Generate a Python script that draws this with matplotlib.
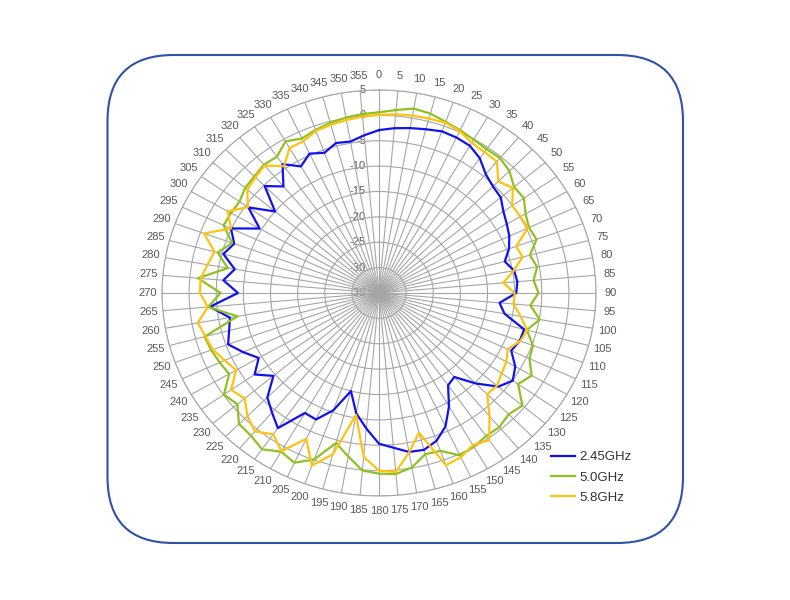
import numpy as np
import matplotlib
matplotlib.use("Agg")
import matplotlib.pyplot as plt
from matplotlib.patches import FancyBboxPatch
from matplotlib.transforms import offset_copy

plt.rcParams['font.family'] = ['Liberation Sans', 'DejaVu Sans']

# angles in degrees, 0 at top, clockwise
angles = list(range(0, 360, 5))

# gain readings (dB) per angle
gain_245 = [-2.9, -2.4, -2.0, -1.6, -1.1, -1.2, -1.5, -2.6, -4.4, -5.3, -5.7, -7.0,
            -7.8, -8.5, -9.5, -11.0, -9.7, -9.4, -9.7, -12.7, -11.5, -7.3, -7.4, -8.1,
            -6.0, -4.9, -6.3, -9.8, -13.4, -12.8, -9.2, -6.0, -4.0, -3.0, -3.2, -4.4,
            -5.3, -8.2, -10.9, -15.0, -10.4, -7.5, -7.7, -2.5, -4.3, -5.9, -9.6, -7.0,
            -9.4, -7.4, -5.4, -6.4, -7.1, -3.7, -9.0, -6.2, -8.0, -5.3, -6.6, -4.9,
            -9.6, -5.6, -10.0, -5.2, -7.6, -4.0, -6.2, -4.7, -5.6, -4.4, -4.7, -3.8]

gain_50 = [0.6, 1.2, 1.9, 1.6, 0.9, 0.4, -0.1, -0.4, -0.3, -1.0, -2.5, -2.4,
           -3.8, -4.5, -4.1, -6.2, -5.4, -6.4, -5.6, -7.0, -4.9, -6.8, -4.8, -4.4,
           -2.5, -3.7, -0.5, -1.2, -0.5, -0.6, 0.0, 0.3, -1.9, -2.1, -0.1, 0.8,
           0.6, 0.1, -2.3, -4.4, -0.1, 1.9, 1.1, 2.6, 1.7, 1.5, -0.9, -0.1,
           -3.1, -2.6, -2.1, -1.7, -8.5, -3.4, -5.8, -1.5, -6.7, -4.2, -6.2, -3.4,
           -3.5, -3.6, -2.8, -2.5, -2.0, -2.2, -0.5, -1.4, -0.8, -0.3, 0.1, 0.4]

gain_58 = [0.1, 0.35, 0.5, 0.6, 0.7, 0.2, -0.8, -1.1, -1.2, -3.9, -2.8, -5.0,
           -4.9, -4.7, -8.1, -7.6, -9.8, -12.0, -10.0, -10.1, -8.5, -6.7, -7.3, -8.8,
           -7.9, -7.4, -6.6, -6.8, -3.3, 0.4, -0.4, 0.7, 1.1, -6.5, -3.1, 0.4,
           0.0, -2.6, -10.6, -2.1, 1.2, -3.3, 1.0, -1.0, 0.6, -0.7, -2.7, -1.7,
           -4.6, -3.6, -2.4, -1.9, -1.1, -3.3, -2.0, -2.0, -2.9, -3.6, -0.7, -4.9,
           -2.8, -5.5, -3.3, -2.8, -2.2, -4.5, -2.0, -2.0, -1.0, -0.7, -0.4, -0.1]

series = [("2.45GHz", gain_245, "#1212EE"),
          ("5.0GHz", gain_50, "#8DC21F"),
          ("5.8GHz", gain_58, "#FFC20E")]

r_ticks = [5, 0, -5, -10, -15, -20, -25, -30, -35]
grid_col = "#A6A6A6"
text_col = "#595959"

fig = plt.figure(figsize=(7.9, 6), dpi=100)

# rounded frame
frame = FancyBboxPatch((1.075, 0.57), 5.755, 4.88,
                       boxstyle="round,pad=0,rounding_size=0.66",
                       transform=fig.dpi_scale_trans, fill=False,
                       edgecolor="#2E52A6", linewidth=1.5)
fig.patches.append(frame)

ax = fig.add_axes([162 / 790, 104 / 600, 434 / 790, 406 / 600], projection='polar')
ax.set_aspect('auto')
ax.set_theta_zero_location('N')
ax.set_theta_direction(-1)
ax.set_ylim(-35, 5)

th = np.deg2rad(angles)
ax.set_xticks(th)
ax.set_xticklabels([str(a) for a in angles], fontsize=8, color=text_col)
ax.tick_params(axis='x', length=0, pad=3.5)
ax.set_yticks(r_ticks[:-1])
ax.set_yticklabels([])
ax.grid(True, color=grid_col, linewidth=0.8)
ax.spines['polar'].set_color(grid_col)
ax.spines['polar'].set_linewidth(0.8)

lab_tr = offset_copy(ax.transData, fig=fig, x=-13, y=0, units='dots')
for v in r_ticks:
    ax.text(0, v, str(v), transform=lab_tr, ha='right', va='center',
            fontsize=8, color=text_col, zorder=1)

handles = []
for name, vals, col in series:
    t = np.append(th, th[0])
    r = np.append(vals, vals[0])
    h, = ax.plot(t, r, color=col, linewidth=1.6, label=name, zorder=3)
    handles.append(h)

fig.legend(handles=handles, loc='upper left', bbox_to_anchor=(551 / 790, 1 - 451 / 600),
           frameon=False, borderpad=0, borderaxespad=0, handlelength=1.8,
           handletextpad=0.35, labelspacing=0.62, fontsize=9.5,
           labelcolor='#333333')

fig.savefig("out.png", dpi=100)
